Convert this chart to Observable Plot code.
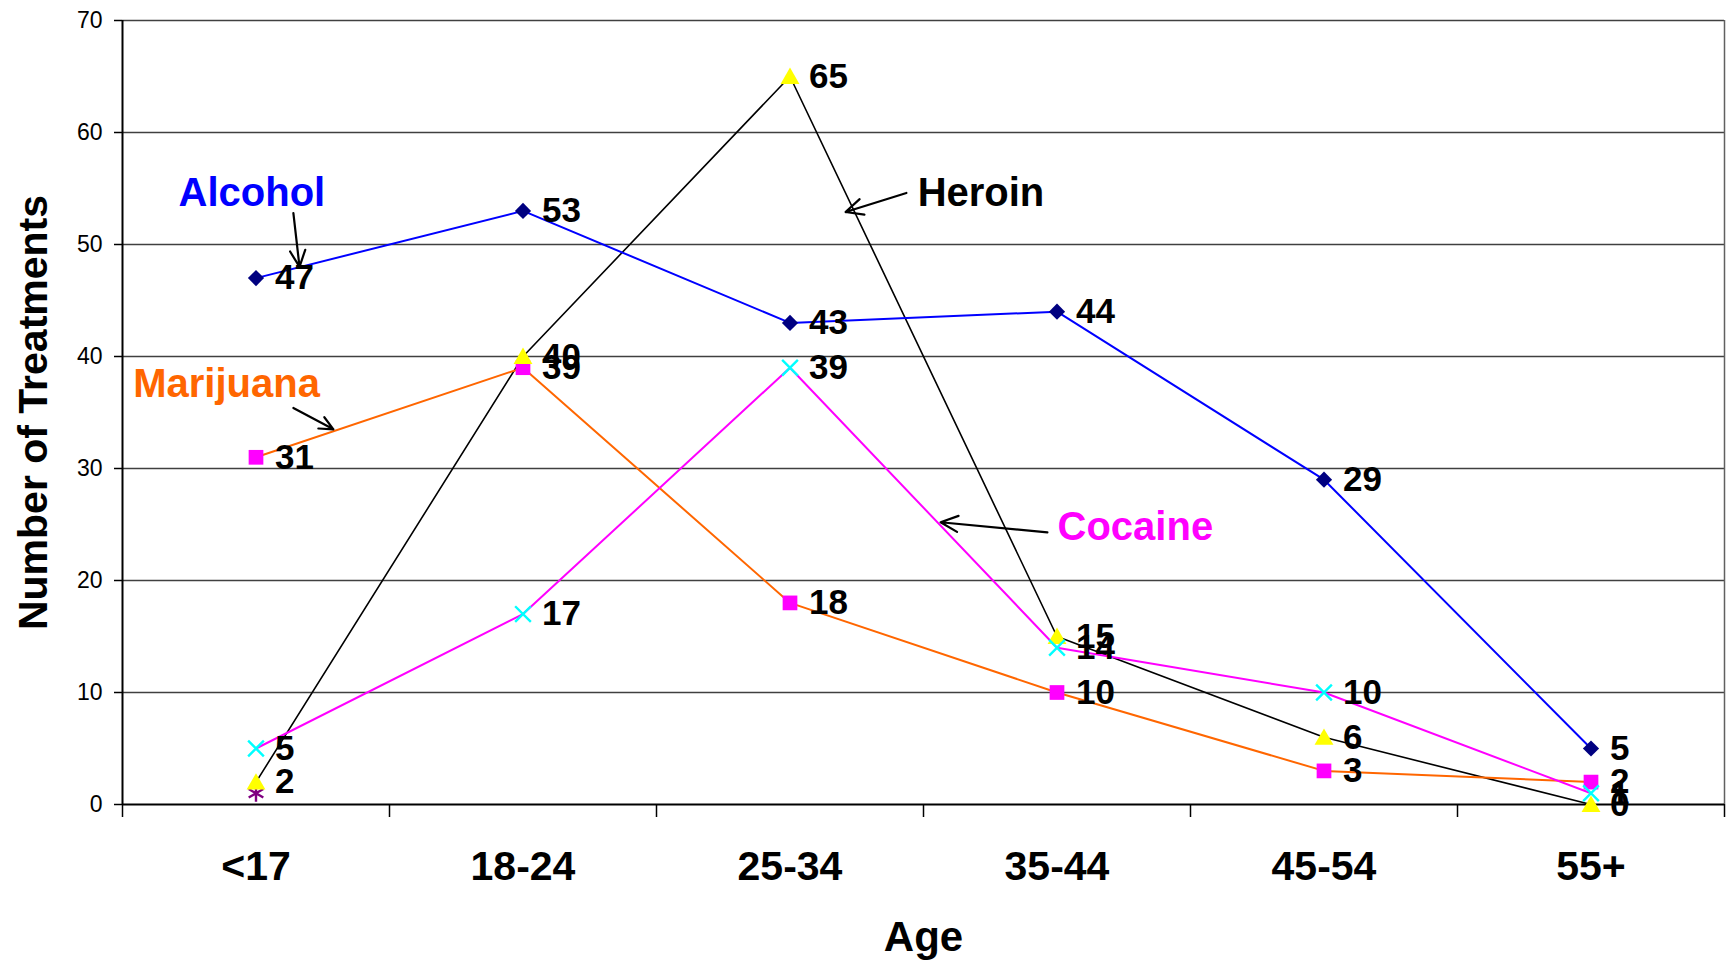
<!DOCTYPE html>
<html>
<head>
<meta charset="utf-8">
<script src="https://cdn.jsdelivr.net/npm/d3@7"></script>
<script src="https://cdn.jsdelivr.net/npm/@observablehq/plot@0.6"></script>
<style>
  html, body { margin: 0; padding: 0; background: #fff; }
  #chart svg { display: block; }
</style>
</head>
<body>
<div id="chart"></div>
<script>
// ---- Data ----
const ageGroups = ["<17", "18-24", "25-34", "35-44", "45-54", "55+"];
const alcohol   = [47, 53, 43, 44, 29, 5];
const marijuana = [31, 39, 18, 10, 3, 2];
const heroin    = [2, 40, 65, 15, 6, 0];
const cocaine   = [5, 17, 39, 14, 10, 1];
const otherAges = ["<17"];
const other     = [1];
const yTicks    = [0, 10, 20, 30, 40, 50, 60, 70];
const xAxisTitle = "Age";
const yAxisTitle = "Number of Treatments";

// Series callouts (label + arrow) in data units: x = age-group index, y = treatments
const calloutLabels = [
  {name: "Alcohol",   x: -0.29, y: 54.6, color: "#0000FF"},
  {name: "Marijuana", x: -0.46, y: 37.5, color: "#FF6600"},
  {name: "Heroin",    x: 2.478, y: 54.6, color: "#000000"},
  {name: "Cocaine",   x: 3.002, y: 24.8, color: "#FF00FF"}
];
const calloutArrows = [
  {x1: 0.140, y1: 52.8, x2: 0.163, y2: 48.0},
  {x1: 0.140, y1: 35.4, x2: 0.290, y2: 33.5},
  {x1: 2.436, y1: 54.6, x2: 2.208, y2: 52.9},
  {x1: 2.964, y1: 24.3, x2: 2.564, y2: 25.2}
];

// ---- Build rows ----
const rows = (vals, ages = ageGroups) => vals.map((v, k) => ({i: ageGroups.indexOf(ages[k]), v}));
const rA = rows(alcohol), rM = rows(marijuana), rH = rows(heroin), rC = rows(cocaine);
const rO = rows(other, otherAges);
const centers = ageGroups.map((_, i) => i);
const bounds = d3.range(-0.5, ageGroups.length, 1);

const labelStyle = {x: "i", y: "v", text: d => String(d.v), dx: 19, textAnchor: "start",
  fontSize: 35, fontWeight: "bold", fill: "#000"};

const chart = Plot.plot({
  width: 1729,
  height: 960,
  marginLeft: 122,
  marginRight: 5,
  marginTop: 20,
  marginBottom: 156,
  style: {fontFamily: "'Liberation Sans', Arial, sans-serif", background: "#fff", color: "#000"},
  x: {domain: [-0.5, ageGroups.length - 0.5]},
  y: {domain: [0, 70]},
  marks: [
    // grid + frame
    Plot.ruleY(yTicks.filter(t => t > 0), {stroke: "#404040", strokeWidth: 1.5}),
    Plot.ruleX([ageGroups.length - 0.5], {y1: 0, y2: 70, stroke: "#606060", strokeWidth: 1.5}),
    // y axis
    Plot.axisY({ticks: yTicks, tickSize: 8, tickPadding: 12, fontSize: 23, label: null, stroke: "#000", strokeWidth: 1.5}),
    Plot.ruleX([-0.5], {y1: 0, y2: 70, stroke: "#000", strokeWidth: 2}),
    // x axis
    Plot.ruleY([0], {stroke: "#000", strokeWidth: 2}),
    Plot.axisX({ticks: bounds, tickSize: 13, tickFormat: () => "", label: null, stroke: "#000", strokeWidth: 1.5}),
    Plot.axisX({ticks: centers, tickSize: 0, tickPadding: 46, tickFormat: i => ageGroups[i],
      fontSize: 41, fontWeight: "bold", label: null}),
    // axis titles
    Plot.text([xAxisTitle], {frameAnchor: "bottom", lineAnchor: "middle", textAnchor: "middle", dy: 133,
      fontSize: 42, fontWeight: "bold", fill: "#000"}),
    Plot.text([yAxisTitle], {frameAnchor: "left", lineAnchor: "middle", textAnchor: "middle", rotate: -90, dx: -89,
      fontSize: 41, fontWeight: "bold", fill: "#000"}),
    // lines
    Plot.line(rH, {x: "i", y: "v", stroke: "#000000", strokeWidth: 1.6}),
    Plot.line(rM, {x: "i", y: "v", stroke: "#FF6600", strokeWidth: 2}),
    Plot.line(rC, {x: "i", y: "v", stroke: "#FF00FF", strokeWidth: 2}),
    Plot.line(rA, {x: "i", y: "v", stroke: "#0000FF", strokeWidth: 2}),
    // markers
    Plot.dot(rO, {x: "i", y: "v", symbol: "asterisk", r: 8, stroke: "#800080", strokeWidth: 2.4}),
    Plot.dot(rA, {x: "i", y: "v", symbol: "diamond2", r: 7.3, fill: "#000080", stroke: null}),
    Plot.dot(rM, {x: "i", y: "v", symbol: "square", r: 8.3, fill: "#FF00FF", stroke: null}),
    Plot.dot(rH, {x: "i", y: "v", symbol: "triangle", r: 7, dy: 2, fill: "#FFFF00", stroke: null}),
    Plot.dot(rC, {x: "i", y: "v", symbol: "times", r: 7.2, stroke: "#00FFFF", strokeWidth: 2.4}),
    // value labels
    Plot.text(rA, labelStyle),
    Plot.text(rM, labelStyle),
    Plot.text(rH, labelStyle),
    Plot.text(rC, labelStyle),
    // callouts
    Plot.arrow(calloutArrows, {x1: "x1", y1: "y1", x2: "x2", y2: "y2", stroke: "#000", strokeWidth: 2.2, headLength: 13, headAngle: 50}),
    Plot.text(calloutLabels, {x: "x", y: "y", text: "name", fill: "color", textAnchor: "start",
      fontSize: 40, fontWeight: "bold"})
  ]
});
document.getElementById("chart").append(chart);
</script>
</body>
</html>
